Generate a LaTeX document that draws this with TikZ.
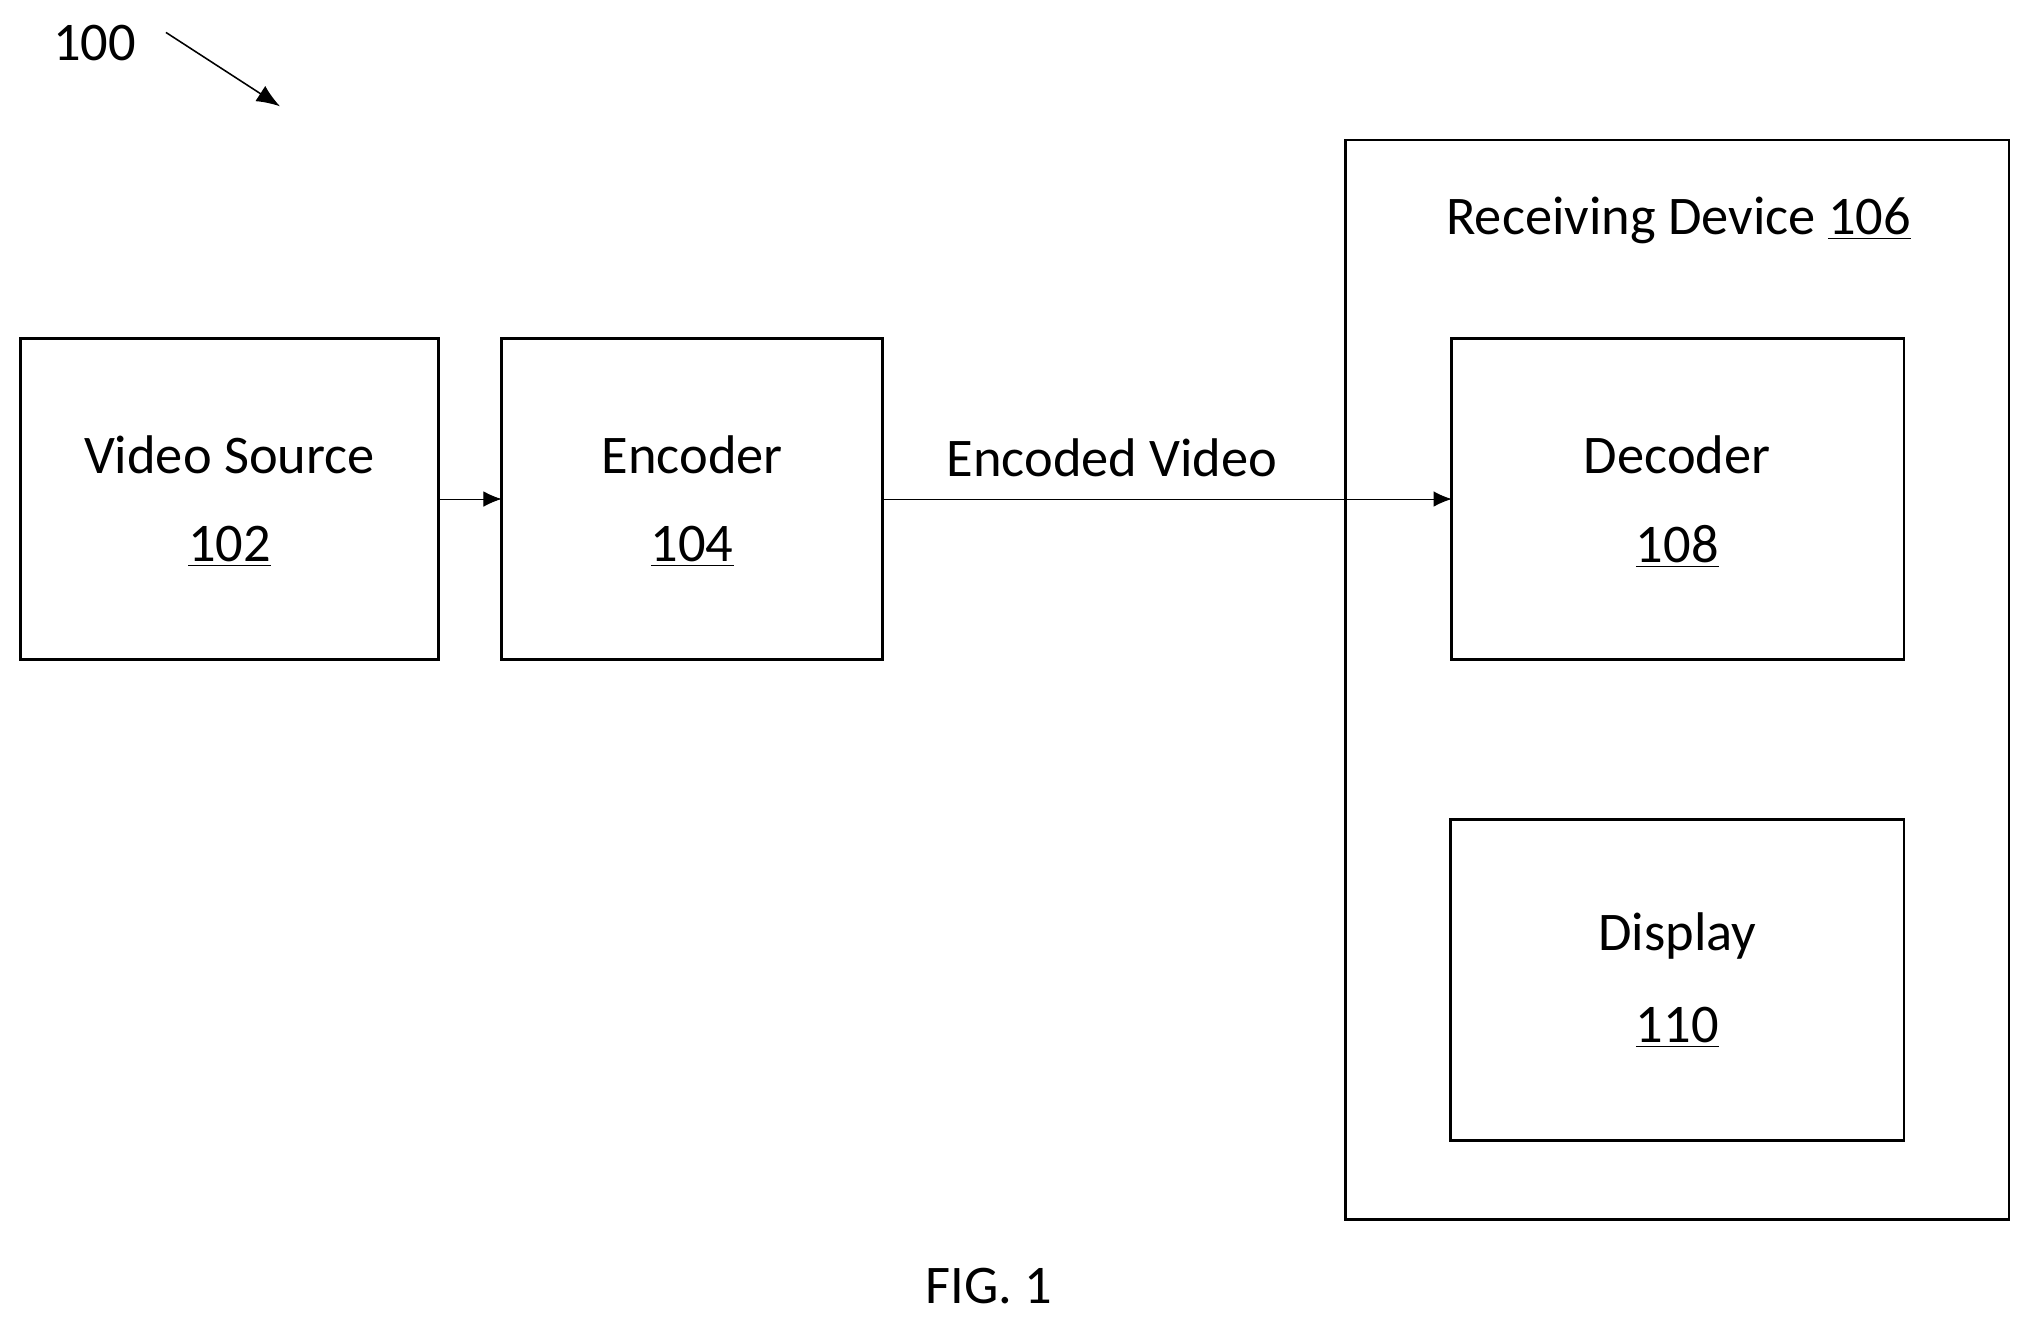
\documentclass[tikz,border=0pt]{standalone}
\usepackage{fontspec}
\setmainfont{Carlito}
\usetikzlibrary{arrows.meta}
\begin{document}
\begin{tikzpicture}[x=0.5pt,y=-0.5pt,
  box/.style={draw,line width=1.1pt},
  lbl/.style={font=\fontsize{21}{25}\selectfont,inner sep=0pt},
  conn/.style={line width=0.4pt,-{Latex[length=7pt,width=6pt]}}]
\useasboundingbox (0,0) rectangle (1560,1018);
\draw[box] (16,261) rectangle (338,509);
\draw[box] (387,261) rectangle (681,509);
\draw[box] (1038,108) rectangle (1550,941);
\draw[box] (1120,261) rectangle (1469,509);
\draw[box] (1119,632) rectangle (1469,880);
\coordinate (vsR) at (338,385);
\coordinate (encL) at (387,385);
\coordinate (encR) at (681,385);
\coordinate (decL) at (1120,385);
\node[lbl] (vs1) at (177,351) {Video Source};
\node[lbl] (vs2) at (177,422) {\underline{102}};
\node[lbl] (en1) at (534,351) {Encoder};
\node[lbl] (en2) at (534,422) {\underline{104}};
\node[lbl] (de1) at (1294,351) {Decoder};
\node[lbl] (de2) at (1294,422) {\underline{108}};
\node[lbl] (di1) at (1294,722) {Display};
\node[lbl] (di2) at (1294,793) {\underline{110}};
\node[lbl] (rd) at (1295,170) {Receiving Device \underline{106}};
\node[lbl] (ev) at (858,353) {Encoded Video};
\node[lbl] (n100) at (73,33) {100};
\node[lbl] (fig) at (763,992) {FIG. 1};
\coordinate (a1) at (128,25);
\coordinate (a2) at (216,82);
\draw[conn] (vsR) -- (encL);
\draw[conn] (encR) -- (decL);
\draw[line width=0.6pt,-{Latex[length=9pt,width=7pt]}] (a1) -- (a2);
\end{tikzpicture}
\end{document}
